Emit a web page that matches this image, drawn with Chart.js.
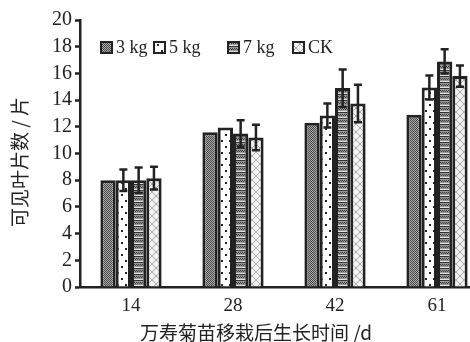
<!DOCTYPE html>
<html>
<head>
<meta charset="utf-8">
<script src="https://cdn.jsdelivr.net/npm/chart.js@4/dist/chart.umd.min.js"></script>
<style>
  html, body { margin: 0; padding: 0; background: #fff; overflow: hidden; }
  #wrap { width: 470px; height: 342px; overflow: hidden; }
</style>
</head>
<body>
<div id="wrap"><canvas id="c" width="490" height="342"></canvas></div>
<script>
// Days after transplanting
const categories = ['14', '28', '42', '61'];
const seriesNames = ['3 kg', '5 kg', '7 kg', 'CK'];
// Visible leaf count (mean) per treatment
const v3kg = [8.0, 11.6, 12.3, 12.9];
const v5kg = [8.0, 11.95, 12.85, 14.95];
const v7kg = [8.0, 11.5, 14.9, 16.9];
const vCK  = [8.15, 11.2, 13.75, 15.8];
// Error bar half-widths (null = no bar)
const e3kg = [null, null, null, null];
const e5kg = [0.8, null, 0.9, 0.9];
const e7kg = [0.95, 1.0, 1.4, 0.9];
const eCK  = [0.85, 0.95, 1.4, 0.8];
const yTicks = [0, 2, 4, 6, 8, 10, 12, 14, 16, 18, 20];

const INK = '#222';

function tile(w, h, draw) {
  const c = document.createElement('canvas');
  c.width = w; c.height = h;
  const g = c.getContext('2d');
  draw(g);
  return g.createPattern(c, 'repeat');
}
const ctx0 = document.getElementById('c').getContext('2d');

// Dense grey dither
const pat3 = tile(4, 4, g => {
  g.fillStyle = '#a8a8a8'; g.fillRect(0, 0, 4, 4);
  g.fillStyle = '#4a4a4a';
  for (let y = 0; y < 4; y++) for (let x = 0; x < 4; x++)
    if ((x + y) % 2 === 0) g.fillRect(x, y, 1, 1);
});
// White with dark dots
const pat5 = tile(8, 12, g => {
  g.fillStyle = '#fff'; g.fillRect(0, 0, 8, 12);
  g.fillStyle = '#222';
  g.fillRect(1, 2, 2, 2);
  g.fillRect(5, 8, 2, 2);
});
// Grey dither with horizontal banding
const pat7 = tile(4, 6, g => {
  g.fillStyle = '#999'; g.fillRect(0, 0, 4, 6);
  g.fillStyle = '#3a3a3a';
  for (let x = 0; x < 4; x += 2) { g.fillRect(x, 0, 1, 1); g.fillRect(x + 1, 1, 1, 1); }
  g.fillStyle = '#e0e0e0';
  g.fillRect(0, 3, 4, 1);
  g.fillStyle = '#333';
  g.fillRect(0, 4, 4, 1);
});
// Light cross-hatch
const patCK = tile(8, 8, g => {
  g.fillStyle = '#f2f2f2'; g.fillRect(0, 0, 8, 8);
  g.strokeStyle = '#a8a8a8'; g.lineWidth = 1;
  g.beginPath();
  g.moveTo(0, 0); g.lineTo(8, 8);
  g.moveTo(8, 0); g.lineTo(0, 8);
  g.stroke();
});

const values = [v3kg, v5kg, v7kg, vCK];
const errors = [e3kg, e5kg, e7kg, eCK];
const fills = [pat3, pat5, pat7, patCK];

const datasets = seriesNames.map((name, i) => ({
  label: name,
  data: values[i],
  errors: errors[i],
  backgroundColor: fills[i],
  borderColor: INK,
  borderWidth: 3,
  borderSkipped: 'bottom',
  barPercentage: 1.0,
  categoryPercentage: 0.6
}));

// Vertical error bars with caps, placed through the y scale
const errorBars = {
  id: 'errorBars',
  afterDatasetsDraw(chart) {
    const ctx = chart.ctx;
    const y = chart.scales.y;
    ctx.save();
    ctx.strokeStyle = INK;
    ctx.lineWidth = 2.5;
    chart.data.datasets.forEach((ds, di) => {
      const meta = chart.getDatasetMeta(di);
      meta.data.forEach((bar, j) => {
        const e = ds.errors[j];
        if (e == null) return;
        const v = ds.data[j];
        const yt = y.getPixelForValue(v + e);
        const yb = y.getPixelForValue(v - e);
        const x = bar.x;
        ctx.beginPath();
        ctx.moveTo(x, yt); ctx.lineTo(x, yb);
        ctx.moveTo(x - 4, yt); ctx.lineTo(x + 4, yt);
        ctx.moveTo(x - 4, yb); ctx.lineTo(x + 4, yb);
        ctx.stroke();
      });
    });
    ctx.restore();
  }
};

// Legend row inside the plot plus both axis titles
const annotations = {
  id: 'annotations',
  afterDraw(chart) {
    const ctx = chart.ctx;
    ctx.save();
    const boxX = [100, 153, 227, 292];
    const boxY = 41;
    ctx.font = '18px "Liberation Serif", serif';
    ctx.textBaseline = 'middle';
    ctx.textAlign = 'left';
    chart.data.datasets.forEach((ds, i) => {
      ctx.fillStyle = ds.backgroundColor;
      ctx.fillRect(boxX[i], boxY, 13, 13);
      ctx.strokeStyle = INK;
      ctx.lineWidth = 2;
      ctx.strokeRect(boxX[i] + 1, boxY + 1, 11, 11);
      ctx.fillStyle = INK;
      ctx.fillText(ds.label, boxX[i] + 16, boxY + 7);
    });

    ctx.fillStyle = INK;
    ctx.font = '19px "Noto Sans CJK SC", sans-serif';
    ctx.textAlign = 'center';
    ctx.textBaseline = 'middle';
    ctx.fillText('万寿菊苗移栽后生长时间 /d', 256, 333);

    ctx.translate(20, 162);
    ctx.rotate(-Math.PI / 2);
    ctx.fillText('可见叶片数 / 片', 0, 0);
    ctx.restore();
  }
};

new Chart(ctx0, {
  type: 'bar',
  data: { labels: categories, datasets },
  options: {
    responsive: false,
    devicePixelRatio: 1,
    animation: false,
    layout: { padding: { top: 20, right: 2, left: 0, bottom: 0 } },
    plugins: { legend: { display: false }, tooltip: { enabled: false } },
    scales: {
      x: {
        type: 'category',
        offset: true,
        grid: { display: false, drawTicks: false, tickLength: 0 },
        border: { display: true, color: INK, width: 2.5 },
        ticks: {
          color: INK,
          padding: 8,
          autoSkip: false,
          maxRotation: 0,
          font: { family: '"Liberation Serif", serif', size: 19 }
        },
        afterFit(s) { s.height = 55; }
      },
      y: {
        min: 0,
        max: 20,
        afterBuildTicks(s) { s.ticks = yTicks.map(v => ({ value: v })); },
        grid: {
          drawOnChartArea: false,
          drawTicks: true,
          tickLength: 5,
          tickWidth: 2.5,
          tickColor: INK
        },
        border: { display: true, color: INK, width: 2.5 },
        ticks: {
          color: INK,
          padding: 3,
          autoSkip: false,
          font: { family: '"Liberation Serif", serif', size: 20 }
        },
        afterFit(s) { s.width = 80; }
      }
    }
  },
  plugins: [errorBars, annotations]
});
</script>
</body>
</html>
